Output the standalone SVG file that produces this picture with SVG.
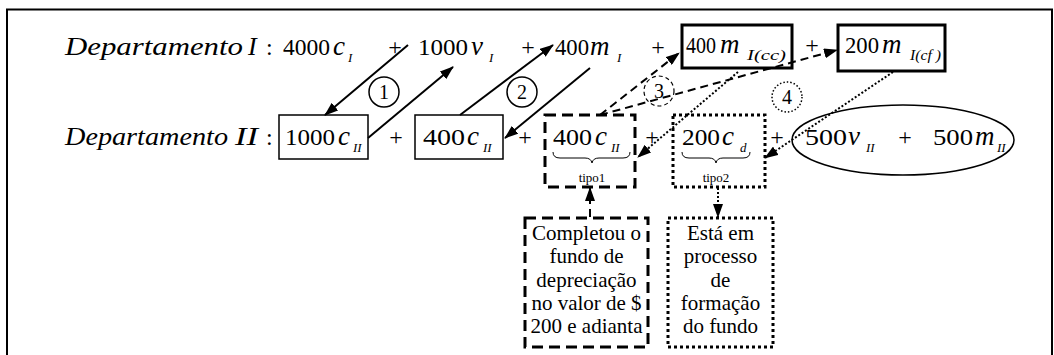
<svg xmlns="http://www.w3.org/2000/svg" width="1054" height="355" viewBox="0 0 1054 355">
<defs>
<style>
text{font-family:"Liberation Serif","Times New Roman",serif;fill:#000}
.n{font-size:24px}
.it{font-size:27px;font-style:italic}
.dep{font-size:26px;font-style:italic}
.sub{font-size:13px;font-style:italic}
.subb{font-size:15px;font-style:italic}
.pl{font-size:24px;text-anchor:middle}
.tipo{font-size:13px;text-anchor:middle}
.lbl{font-size:20px;text-anchor:middle}
.body{font-size:21px;text-anchor:middle}
.thin{fill:none;stroke:#000;stroke-width:1.5}
.thick{fill:none;stroke:#000;stroke-width:3}
.dash{fill:none;stroke:#000;stroke-width:3;stroke-dasharray:11 6}
.dot{fill:none;stroke:#000;stroke-width:3;stroke-dasharray:3 3}
.solid{fill:none;stroke:#000;stroke-width:2}
.cdash{fill:none;stroke:#000;stroke-width:2;stroke-dasharray:8 5}
.cdot{fill:none;stroke:#000;stroke-width:2;stroke-dasharray:2 2}
.brace{fill:none;stroke:#000;stroke-width:1}
</style>
<marker id="ah" markerWidth="14" markerHeight="10" refX="13" refY="5" orient="auto" markerUnits="userSpaceOnUse">
<path d="M0,0 L14,5 L0,10 Z" fill="#000"/>
</marker>
</defs>
<rect x="7" y="9.5" width="1045" height="360" fill="none" stroke="#000" stroke-width="2"/>

<g id="dept1-label">
<text x="65" y="55" class="dep" textLength="178" lengthAdjust="spacingAndGlyphs">Departamento</text>
<text x="248" y="55" class="dep">I</text>
<text x="266" y="55" class="n">:</text>
</g>
<g id="t-4000cI">
<text x="283" y="55" class="n" textLength="47" lengthAdjust="spacingAndGlyphs">4000</text>
<text x="333" y="55" class="it">c</text>
<text x="348" y="62" class="sub">I</text>
</g>
<text x="395" y="55" class="pl">+</text>
<g id="t-1000vI">
<text x="418" y="55" class="n" textLength="50" lengthAdjust="spacingAndGlyphs">1000</text>
<text x="471" y="55" class="it">v</text>
<text x="489" y="62" class="sub">I</text>
</g>
<text x="528" y="55" class="pl">+</text>
<g id="t-400mI">
<text x="555" y="55" class="n" textLength="34" lengthAdjust="spacingAndGlyphs">400</text>
<text x="590" y="55" class="it">m</text>
<text x="617" y="62" class="sub">I</text>
</g>
<text x="658" y="55" class="pl">+</text>
<g id="box-400mIcc">
<rect x="682" y="25" width="110" height="43" class="thick"/>
<text x="686" y="53" class="n" textLength="30" lengthAdjust="spacingAndGlyphs">400</text>
<text x="720" y="53" class="it">m</text>
<text x="747" y="60" class="subb" textLength="39" lengthAdjust="spacingAndGlyphs">I(cc)</text>
</g>
<text x="812" y="53" class="pl">+</text>
<g id="box-200mIcf">
<rect x="838" y="25" width="107" height="46" class="thick"/>
<text x="845" y="53" class="n" textLength="34" lengthAdjust="spacingAndGlyphs">200</text>
<text x="882" y="53" class="it">m</text>
<text x="910" y="60" class="subb" textLength="31" lengthAdjust="spacingAndGlyphs">I(cf )</text>
</g>

<g id="dept2-label">
<text x="65" y="145" class="dep" textLength="163" lengthAdjust="spacingAndGlyphs">Departamento</text>
<text x="235" y="145" class="dep" textLength="23" lengthAdjust="spacingAndGlyphs">II</text>
<text x="266" y="145" class="n">:</text>
</g>
<g id="box-1000cII">
<rect x="279" y="115" width="89" height="44" class="thin"/>
<text x="285" y="145" class="n" textLength="50" lengthAdjust="spacingAndGlyphs">1000</text>
<text x="338" y="145" class="it">c</text>
<text x="353" y="152" class="sub">II</text>
</g>
<text x="396" y="145" class="pl">+</text>
<g id="box-400cII">
<rect x="415" y="115" width="88" height="44" class="thin"/>
<text x="423" y="145" class="n" textLength="42" lengthAdjust="spacingAndGlyphs">400</text>
<text x="467" y="145" class="it">c</text>
<text x="483" y="152" class="sub">II</text>
</g>
<text x="525" y="145" class="pl">+</text>
<g id="box-400cII-tipo1">
<rect x="545" y="115" width="90" height="72" class="dash"/>
<text x="553" y="145" class="n" textLength="39" lengthAdjust="spacingAndGlyphs">400</text>
<text x="595" y="145" class="it">c</text>
<text x="611" y="152" class="sub">II</text>
<path d="M553,152 Q553,158 560,158 L585,158 Q591,158 592,163 Q593,158 599,158 L623,158 Q630,158 630,152" class="brace"/>
<text x="592" y="182" class="tipo">tipo1</text>
</g>
<text x="652" y="145" class="pl">+</text>
<g id="box-200cd-tipo2">
<rect x="673" y="115" width="92" height="72" class="dot"/>
<text x="682" y="145" class="n" textLength="38" lengthAdjust="spacingAndGlyphs">200</text>
<text x="722" y="145" class="it">c</text>
<text x="740" y="152" class="sub">d</text>
<path d="M682,152 Q682,158 689,158 L709,158 Q715,158 716,163 Q717,158 723,158 L743,158 Q750,158 750,152" class="brace"/>
<text x="716" y="182" class="tipo">tipo2</text>
</g>
<text x="777" y="145" class="pl">+</text>
<g id="ellipse-500">
<ellipse cx="903" cy="140" rx="111" ry="35" class="thin"/>
<text x="805" y="145" class="n" textLength="42" lengthAdjust="spacingAndGlyphs">500</text>
<text x="848" y="145" class="it">v</text>
<text x="866" y="152" class="sub">II</text>
<text x="905" y="145" class="pl">+</text>
<text x="933" y="145" class="n" textLength="40" lengthAdjust="spacingAndGlyphs">500</text>
<text x="975" y="145" class="it">m</text>
<text x="997" y="152" class="sub">II</text>
</g>

<g id="box-completou">
<rect x="525" y="218" width="123" height="129" class="dash"/>
<text x="586.5" y="240" class="body">Completou o</text>
<text x="586.5" y="263" class="body">fundo de</text>
<text x="586.5" y="287" class="body">depreciação</text>
<text x="586.5" y="310" class="body">no valor de $</text>
<text x="586.5" y="333" class="body">200 e adianta</text>
</g>
<g id="box-esta">
<rect x="668" y="218" width="105" height="129" class="dot"/>
<text x="720.5" y="240" class="body">Está em</text>
<text x="720.5" y="263" class="body">processo</text>
<text x="720.5" y="287" class="body">de</text>
<text x="720.5" y="310" class="body">formação</text>
<text x="720.5" y="333" class="body">do fundo</text>
</g>

<g id="circle-1"><circle cx="384" cy="92" r="15" class="thin"/><text x="384" y="99" class="lbl">1</text></g>
<g id="circle-2"><circle cx="522" cy="92" r="15" class="thin"/><text x="522" y="99" class="lbl">2</text></g>
<g id="circle-3"><circle cx="659" cy="91" r="15" fill="none" stroke="#000" stroke-width="1.2" stroke-dasharray="4 3"/><text x="659" y="98" class="lbl">3</text></g>
<g id="circle-4"><circle cx="787" cy="97" r="15" fill="none" stroke="#000" stroke-width="1.5" stroke-dasharray="1.5 2"/><text x="787" y="104" class="lbl">4</text></g>

<g id="connectors">
<line x1="408" y1="45" x2="325" y2="115" class="solid" marker-end="url(#ah)"/>
<line x1="368" y1="138" x2="453" y2="67" class="solid" marker-end="url(#ah)"/>
<line x1="460" y1="115" x2="553" y2="45" class="solid" marker-end="url(#ah)"/>
<line x1="590" y1="68" x2="505" y2="138" class="solid" marker-end="url(#ah)"/>
<line x1="600" y1="115" x2="679" y2="53" class="cdash" marker-end="url(#ah)"/>
<line x1="600" y1="115" x2="837" y2="50" class="cdash" marker-end="url(#ah)"/>
<line x1="738" y1="72" x2="638" y2="157" class="cdot" marker-end="url(#ah)"/>
<line x1="893" y1="72" x2="765" y2="158" class="cdot" marker-end="url(#ah)"/>
<line x1="590" y1="217" x2="590" y2="188" class="cdash" marker-end="url(#ah)"/>
<line x1="718" y1="188" x2="718" y2="217" class="cdot" marker-end="url(#ah)"/>
</g>
</svg>
